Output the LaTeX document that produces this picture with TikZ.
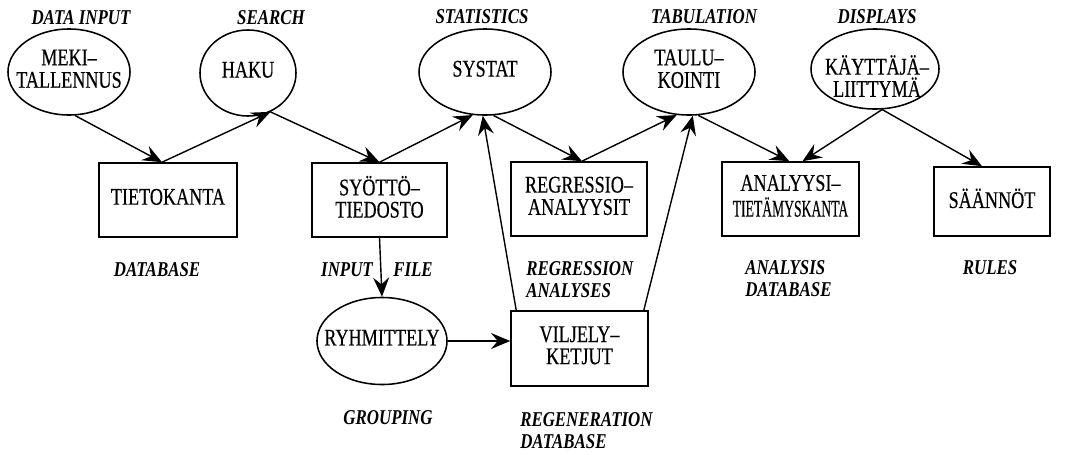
\documentclass[tikz,border=0pt]{standalone}
\usepackage{fontspec}
\setmainfont{Liberation Serif}
\newfontfamily\boxfont[FakeStretch=0.76,FakeBold=0.4]{Liberation Serif}
\newfontfamily\labfont[FakeStretch=0.8]{Liberation Serif}
\usetikzlibrary{shapes.geometric,arrows.meta}
\newcommand\zw[1]{\makebox[0pt]{\begin{tabular}{@{}c@{}}#1\end{tabular}}}
\tikzset{
  ell/.style={ellipse, draw, line width=1.1pt, inner sep=0pt,
    font=\boxfont\fontsize{17}{15.8}\selectfont},
  rbox/.style={rectangle, draw, line width=1.1pt, inner sep=0pt,
    font=\boxfont\fontsize{17}{15.3}\selectfont},
  txt/.style={inner sep=0pt, font=\boxfont\fontsize{17}{15.8}\selectfont, align=center},
  lab/.style={inner sep=0pt, align=left,
    font=\labfont\bfseries\itshape\fontsize{15}{15.5}\selectfont},
  conn/.style={line width=1pt, -{Stealth[length=0.48cm,width=0.4cm,inset=0.17cm]}}
}
\begin{document}
\begin{tikzpicture}[x=0.025cm,y=-0.025cm]
\useasboundingbox (0,0) rectangle (1072,454);
% ellipses
\node[ell, minimum width=3.05cm, minimum height=2.15cm] (meki) at (69,72) {\zw{MEKI–\\TALLENNUS}};
\node[ell, minimum width=2.4cm, minimum height=2.15cm] (haku) at (248,73) {\zw{HAKU}};
\node[ell, minimum width=3.3cm, minimum height=2.15cm] (systat) at (485,72) {\zw{SYSTAT}};
\node[ell, minimum width=3.3cm, minimum height=2.15cm] (taulu) at (689,72) {\zw{TAULU–\\KOINTI}};
\node[ell, minimum width=3.2cm, minimum height=2.0cm] (kayt) at (875,69) {};
\node[txt] (kayttxt) at (877,76) {KÄYTTÄJÄ–\\LIITTYMÄ};
\node[ell, minimum width=3.25cm, minimum height=2.175cm] (ryh) at (382,341) {\zw{RYHMITTELY}};
% boxes
\node[rbox, minimum width=3.45cm, minimum height=1.85cm] (tieto) at (168,200) {\zw{TIETOKANTA}};
\node[rbox, minimum width=3.375cm, minimum height=1.85cm] (syotto) at (379.5,200) {\zw{SYÖTTÖ–\\TIEDOSTO}};
\node[rbox, minimum width=3.4cm, minimum height=1.85cm] (regr) at (579,199) {\zw{REGRESSIO–\\ANALYYSIT}};
\node[rbox, minimum width=3.425cm, minimum height=1.85cm] (analyysi) at (790.5,199) {\zw{ANALYYSI–\\\scalebox{0.75}[1]{TIETÄMYSKANTA}}};
\node[rbox, minimum width=2.9cm, minimum height=1.725cm] (saannot) at (992,201.5) {\zw{SÄÄNNÖT}};
\node[rbox, minimum width=3.425cm, minimum height=1.875cm] (vil) at (579.5,348.5) {\zw{VILJELY–\\KETJUT}};
% labels
\node[lab] (l1) at (81,18) {DATA INPUT};
\node[lab] (l2) at (271,18) {SEARCH};
\node[lab] (l3) at (482,17) {STATISTICS};
\node[lab] (l4) at (704,17) {TABULATION};
\node[lab] (l5) at (877,17) {DISPLAYS};
\node[lab] (l6) at (157,270) {DATABASE};
\node[lab] (l7) at (347,270) {INPUT};
\node[lab] (l8) at (413,270) {FILE};
\node[lab] (l9) at (388,418) {GROUPING};
\node[lab, anchor=west] (l10) at (526,279.5) {REGRESSION\\ANALYSES};
\node[lab, anchor=west] (l11) at (745,279) {ANALYSIS\\DATABASE};
\node[lab] (l12) at (990,268) {RULES};
\node[lab, anchor=west] (l13) at (520,431) {REGENERATION\\DATABASE};
% connectors
\draw[conn] (meki.-82) -- ([xshift=-0.15cm]tieto.north);
\draw[conn] ([xshift=-0.15cm]tieto.north) -- (haku.-60);
\draw[conn] (haku.-60) -- (syotto.north);
\draw[conn] (syotto.north) -- (systat.-106);
\draw[conn] (systat.-79) -- ([xshift=0.075cm]regr.north);
\draw[conn] ([xshift=0.075cm]regr.north) -- (taulu.-106);
\draw[conn] (taulu.-78) -- ([xshift=-0.03cm]analyysi.north);
\draw[conn] (kayt.-80) -- ([xshift=0.3cm]analyysi.north);
\draw[conn] (kayt.-80) -- ([xshift=-0.25cm]saannot.north);
\draw[conn] (syotto.south) -- (ryh.north);
\draw[conn] (ryh.east) -- (ryh.east -| vil.west);
\draw[conn] ([xshift=0.15cm]vil.north west) -- (systat.-93);
\draw[conn] ([xshift=-0.125cm]vil.north east) -- (taulu.-85);
\end{tikzpicture}
\end{document}
